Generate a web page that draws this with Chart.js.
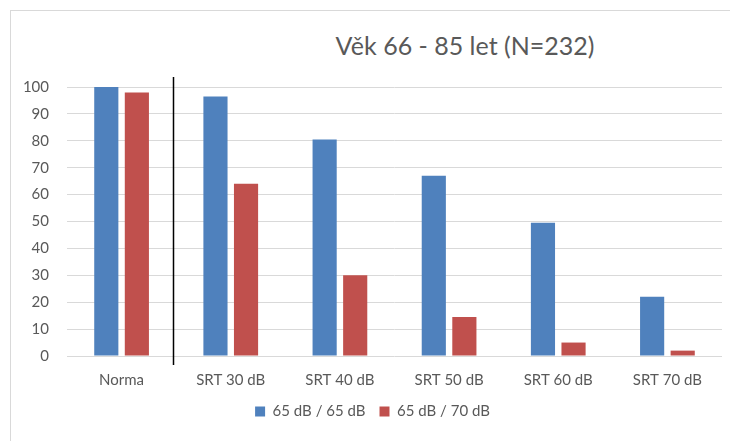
<!DOCTYPE html>
<html>
<head>
<meta charset="utf-8">
<script src="https://cdn.jsdelivr.net/npm/chart.js@4"></script>
<style>
  body { margin: 0; background: #fff; }
  #wrap { position: relative; width: 730px; height: 441px; overflow: hidden; }
  #frame { position: absolute; left: 10px; top: 10px; width: 740px; height: 460px; border: 1px solid #d9d9d9; }
  #titulo { position: absolute; left: 0; top: 30px; width: 930px; text-align: center; font: 25px Lato, "Open Sans", sans-serif; color: #595959; }
  canvas { position: absolute; left: 0; top: 0; }
</style>
</head>
<body>
<div id="wrap">
  <div id="frame"></div>
  <div id="titulo">Věk 66 - 85 let (N=232)</div>
  <canvas id="graf" width="730" height="441"></canvas>
</div>
<script>
// datos
const kategorie = ['Norma', 'SRT 30 dB', 'SRT 40 dB', 'SRT 50 dB', 'SRT 60 dB', 'SRT 70 dB'];
const serie65 = [100, 96.5, 80.5, 67, 49.5, 22];
const serie70 = [98, 64, 30, 14.5, 5, 2];
const nazvySerii = ['65 dB / 65 dB', '65 dB / 70 dB'];
const yTicks = [0, 10, 20, 30, 40, 50, 60, 70, 80, 90, 100];

const sede = '#595959';
const pismo = { family: 'Lato', size: 15 };

// línea vertical entre Norma y SRT 30 dB
const oddelovac = {
  id: 'oddelovac',
  afterDatasetsDraw(chart) {
    const x = chart.scales.x;
    const a = chart.chartArea;
    const px = Math.round((x.getPixelForValue(0) + x.getPixelForValue(1)) / 2) - 3 + 0.5;
    const ctx = chart.ctx;
    ctx.save();
    ctx.strokeStyle = '#000';
    ctx.lineWidth = 1.5;
    ctx.beginPath();
    ctx.moveTo(px, a.top - 10);
    ctx.lineTo(px, a.bottom + 9);
    ctx.stroke();
    ctx.restore();
  }
};

new Chart(document.getElementById('graf'), {
  type: 'bar',
  data: {
    labels: kategorie,
    datasets: [
      { label: nazvySerii[0], data: serie65, backgroundColor: '#4f81bd' },
      { label: nazvySerii[1], data: serie70, backgroundColor: '#c0504d' }
    ]
  },
  options: {
    responsive: false,
    animation: false,
    categoryPercentage: 0.56,
    barPercentage: 0.79,
    layout: { padding: { left: 23, right: 8, top: 87, bottom: 12 } },
    plugins: {
      legend: {
        position: 'bottom',
        labels: { boxWidth: 10, boxHeight: 10, color: sede, font: pismo, padding: 14 }
      },
      tooltip: { enabled: false },
      title: { display: false }
    },
    scales: {
      x: {
        grid: { display: false, drawTicks: false },
        border: { display: false },
        ticks: { color: sede, font: pismo, padding: 15 },
        afterFit(s) { s.height = 34; }
      },
      y: {
        min: 0, max: 100,
        afterBuildTicks(s) { s.ticks = yTicks.map(v => ({ value: v })); },
        grid: { color: '#d9d9d9', drawTicks: false },
        border: { display: false },
        ticks: { color: sede, font: pismo, padding: 18 },
        afterFit(s) { s.width = 44; }
      }
    }
  },
  plugins: [oddelovac]
});
</script>
</body>
</html>
